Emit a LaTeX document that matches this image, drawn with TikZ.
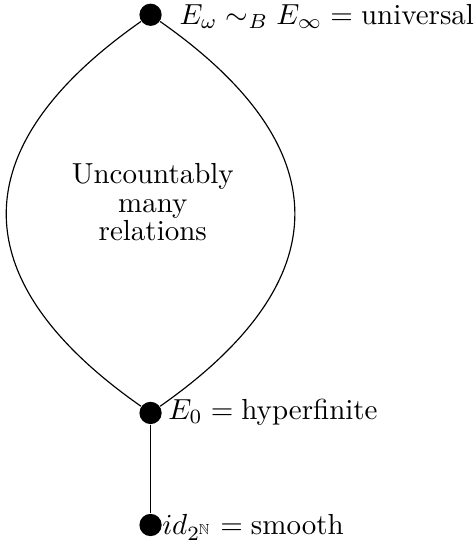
\documentclass[tikz,border=0pt]{standalone}
\usepackage{amsmath}
\usepackage{amssymb}
\usepackage{tikz}
\usetikzlibrary{positioning}

\begin{document}
\begin{tikzpicture}[
 dot/.style={circle, fill=black, inner sep=0pt, minimum size=0.27cm},
 lbl/.style={anchor=base west, inner sep=0pt},
 blob/.style={align=center, font=\fontsize{10pt}{9.9pt}\selectfont}]
\useasboundingbox (0,0) rectangle (5.758,6.558);
\node[dot] (univ) at (1.825,6.379) {};
\node[dot] (hyp) at (1.825,1.552) {};
\node[dot] (smooth) at (1.825,0.194) {};
\node[lbl] (univlbl) at (2.17,6.261) {$E_\omega \sim_B E_\infty = \text{universal}$};
\node[lbl] (hyplbl) at (2.033,1.475) {$E_0 = \text{hyperfinite}$};
\node[lbl] (smoothlbl) at (1.96,0.073) {$id_{2^{\mathbb{N}}} = \text{smooth}$};
\node[blob] (middle) at (1.852,4.108) {Uncountably\\many\\relations};
\draw (univ) .. controls +(-145:2.8) and +(145:2.8) .. (hyp);
\draw (univ) .. controls +(-35:2.8) and +(35:2.8) .. (hyp);
\draw (hyp) -- (smooth);
\end{tikzpicture}
\end{document}
